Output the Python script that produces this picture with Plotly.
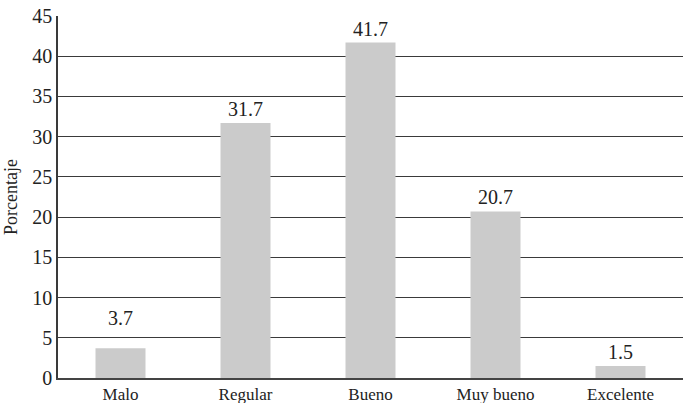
import plotly.graph_objects as go

categorias = ["Malo", "Regular", "Bueno", "Muy bueno", "Excelente"]
porcentajes = [3.7, 31.7, 41.7, 20.7, 1.5]
etiquetas = ["3.7", "31.7", "41.7", "20.7", "1.5"]
ticks_y = [0, 5, 10, 15, 20, 25, 30, 35, 40, 45]

fuente = "Liberation Serif"

# desplazamiento extra de la etiqueta de "Malo" para que no pise la línea del 5
desplazamientos = {"Malo": 16}

fig = go.Figure(go.Bar(
    x=categorias,
    y=porcentajes,
    marker=dict(color="#cbcbcb", line=dict(width=0)),
    hoverinfo="x+y",
))

for cat, val, txt in zip(categorias, porcentajes, etiquetas):
    fig.add_annotation(
        x=cat, y=val, text=txt, showarrow=False,
        yanchor="bottom", yshift=1 + desplazamientos.get(cat, 0),
        font=dict(family=fuente, size=20, color="#222"),
    )

fig.update_layout(
    width=687,
    height=403,
    margin=dict(l=58, r=4, t=16, b=25, autoexpand=False),
    paper_bgcolor="white",
    plot_bgcolor="white",
    bargap=0.6,
    showlegend=False,
    font=dict(family=fuente, color="#222"),
)
fig.update_xaxes(
    showline=True, linecolor="#444", linewidth=2,
    showgrid=False, ticks="",
    tickfont=dict(family=fuente, size=17),
)
fig.update_yaxes(
    range=[0, 45], tickvals=ticks_y,
    showgrid=True, gridcolor="#3a3a3a", gridwidth=1.3,
    showline=True, linecolor="#3a3a3a", linewidth=1.5,
    zeroline=False, ticks="",
    tickfont=dict(family=fuente, size=20),
    title=dict(text="Porcentaje", font=dict(family=fuente, size=18), standoff=10),
)

fig.write_html(
    "out.html",
    config={"displayModeBar": False},
    post_script="document.body.style.margin='0';",
)
